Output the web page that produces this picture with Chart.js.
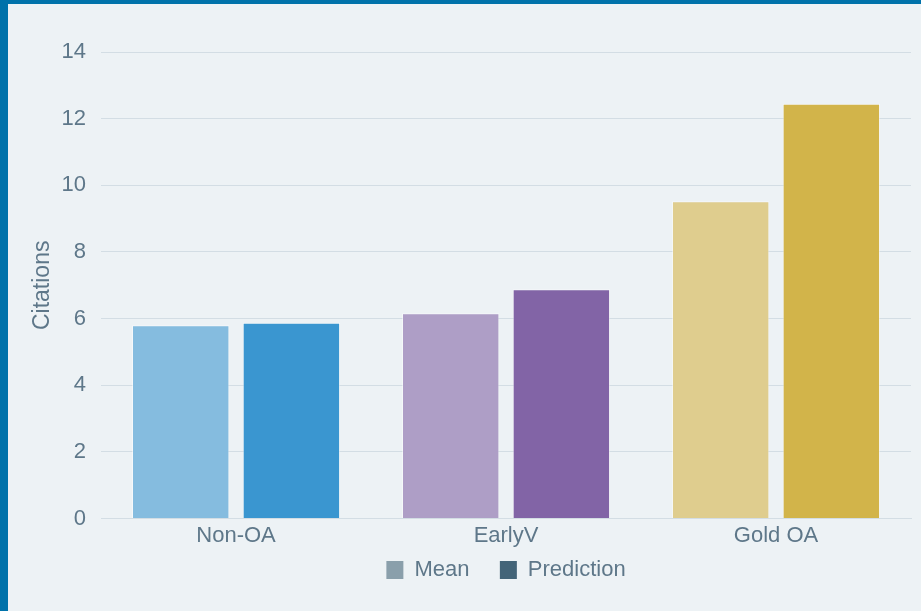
<!DOCTYPE html>
<html>
<head>
<meta charset="utf-8">
<script src="https://cdn.jsdelivr.net/npm/chart.js@4.4.0/dist/chart.umd.min.js"></script>
<style>
  html, body { margin: 0; padding: 0; background: #edf2f5; }
  #wrap {
    box-sizing: border-box;
    width: 921px;
    height: 611px;
    border-left: 8px solid #0072aa;
    border-top: 4px solid #0072aa;
    background: #edf2f5;
  }
  #chart { display: block; }
</style>
</head>
<body>
<div id="wrap"><canvas id="chart" width="913" height="607"></canvas></div>
<script>
// data
const categories = ["Non-OA", "EarlyV", "Gold OA"];
const meanValues = [5.8, 6.16, 9.52];
const predictionValues = [5.88, 6.88, 12.45];
const yTicks = [0, 2, 4, 6, 8, 10, 12, 14];

const meanColors = ["#85bcdf", "#ae9ec6", "#dfcd8e"];
const predColors = ["#3a96d0", "#8264a6", "#d2b44a"];
const textColor = "#5e7789";
const fontFamily = "'Liberation Sans', sans-serif";

const ctx = document.getElementById("chart").getContext("2d");
new Chart(ctx, {
  type: "bar",
  data: {
    labels: categories,
    datasets: [
      {
        label: "Mean",
        data: meanValues,
        backgroundColor: meanColors,
        borderColor: "rgba(255,255,255,0.5)",
        borderWidth: 1,
        legendColor: "#8a9fab",
        categoryPercentage: 0.82,
        barPercentage: 0.88,
      },
      {
        label: "Prediction",
        data: predictionValues,
        backgroundColor: predColors,
        borderColor: "rgba(255,255,255,0.5)",
        borderWidth: 1,
        legendColor: "#436478",
        categoryPercentage: 0.82,
        barPercentage: 0.88,
      },
    ],
  },
  options: {
    responsive: false,
    animation: false,
    layout: { padding: { top: 48, right: 10, bottom: 20, left: 21 } },
    scales: {
      x: {
        grid: { display: false, drawTicks: false },
        border: { display: true, color: "#d3dde4", width: 1 },
        ticks: {
          color: textColor,
          font: { family: fontFamily, size: 22 },
          padding: 4,
        },
      },
      y: {
        min: 0,
        max: 14,
        afterBuildTicks: (axis) => {
          axis.ticks = yTicks.map((v) => ({ value: v }));
        },
        grid: { color: "#d3dde4", drawTicks: false },
        border: { display: false },
        ticks: {
          color: textColor,
          font: { family: fontFamily, size: 22 },
          padding: 15,
        },
        title: {
          display: true,
          text: "Citations",
          color: textColor,
          font: { family: fontFamily, size: 23 },
          padding: { top: 0, bottom: -10 },
        },
      },
    },
    plugins: {
      legend: {
        position: "bottom",
        fullSize: false,
        labels: {
          color: textColor,
          font: { family: fontFamily, size: 22 },
          boxWidth: 17,
          boxHeight: 18,
          padding: 6,
          generateLabels: (chart) =>
            chart.data.datasets.map((ds, i) => ({
              // trailing spaces widen the gap between the two legend items
              text: i === 0 ? ds.label + "    " : ds.label,
              fillStyle: ds.legendColor,
              strokeStyle: ds.legendColor,
              lineWidth: 0,
              datasetIndex: i,
              fontColor: textColor,
            })),
        },
      },
      tooltip: { enabled: false },
    },
  },
});
</script>
</body>
</html>
